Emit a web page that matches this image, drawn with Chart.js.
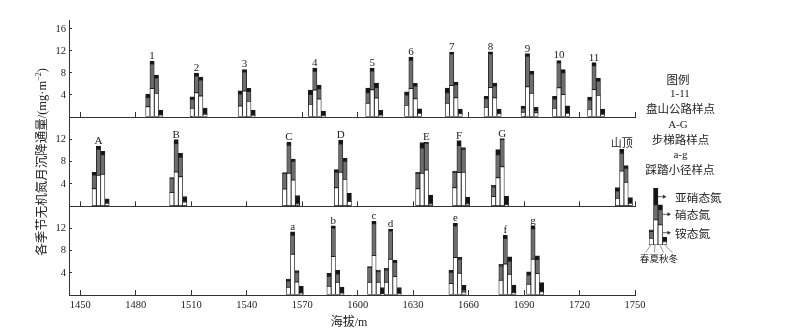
<!DOCTYPE html>
<html><head><meta charset="utf-8">
<script src="https://cdn.jsdelivr.net/npm/chart.js@4.4.1/dist/chart.umd.min.js"></script>
<style>
html,body{margin:0;padding:0;background:#fff;}
#wrap{position:relative;width:808px;height:335px;overflow:hidden;background:#fff;}
#wrap canvas{position:absolute;left:0;top:0;}
.t{position:absolute;transform:translate(-50%,-50%);white-space:nowrap;line-height:1;color:#222;font-family:"Liberation Serif","Noto Sans CJK SC",serif;}
.l{position:absolute;transform:translate(0,-50%);white-space:nowrap;line-height:1;color:#222;font-family:"Liberation Serif","Noto Sans CJK SC",serif;}
.cjk{font-family:"Noto Sans CJK SC",sans-serif;}
</style></head><body>
<div id="wrap">
<canvas id="c1" width="808" height="335"></canvas>
<canvas id="c2" width="808" height="335"></canvas>
<canvas id="c3" width="808" height="335"></canvas>
<canvas id="cl" width="18" height="57" style="left:649px;top:188px;"></canvas>
<svg width="808" height="335" style="position:absolute;left:0;top:0;" xmlns="http://www.w3.org/2000/svg">
  <g stroke="#333" stroke-width="0.8" fill="#333">
    <line x1="658" y1="196.7" x2="663.5" y2="196.7"/>
    <polygon points="663,194.7 666.5,196.7 663,198.7" stroke="none"/>
    <line x1="662.5" y1="214.3" x2="668" y2="214.3"/>
    <polygon points="667.5,212.3 671,214.3 667.5,216.3" stroke="none"/>
    <line x1="662.5" y1="232.7" x2="668" y2="232.7"/>
    <polygon points="667.5,230.7 671,232.7 667.5,234.7" stroke="none"/>
  </g>
  <g stroke="#555" stroke-width="0.6">
    <line x1="651" y1="245" x2="645.5" y2="252.5"/>
    <line x1="655" y1="245" x2="654.5" y2="252.5"/>
    <line x1="660" y1="245" x2="663.5" y2="252.5"/>
    <line x1="664.5" y1="245" x2="672.5" y2="252.5"/>
  </g>
</svg>
<div class="t" style="left:42px;top:162px;font-size:12.5px;transform:translate(-50%,-50%) rotate(-90deg);"><span class="cjk">各季节无机氮月沉降通量</span>/(mg·m<sup style="font-size:8px;vertical-align:5px;line-height:0">−2</sup>)</div>
<div class="t" style="left:349px;top:321px;font-size:12px;"><span class="cjk">海拔</span>/m</div>
<div class="t cjk" style="left:678px;top:80px;font-size:11.5px;">图例</div>
<div class="t" style="left:680px;top:93px;font-size:11px;">1-11</div>
<div class="t cjk" style="left:680.5px;top:108.7px;font-size:11.5px;">盘山公路样点</div>
<div class="t" style="left:678px;top:124px;font-size:11px;">A-G</div>
<div class="t cjk" style="left:680.5px;top:139.5px;font-size:11.5px;">步梯路样点</div>
<div class="t" style="left:680.5px;top:154px;font-size:11px;">a-g</div>
<div class="t cjk" style="left:680px;top:169.5px;font-size:11.5px;">踩踏小径样点</div>
<div class="l cjk" style="left:675px;top:196.7px;font-size:11.7px;">亚硝态氮</div>
<div class="l cjk" style="left:675px;top:214.3px;font-size:11.7px;">硝态氮</div>
<div class="l cjk" style="left:675px;top:232.7px;font-size:11.7px;">铵态氮</div>
<div class="t cjk" style="left:659px;top:258.5px;font-size:9.6px;">春夏秋冬</div>
</div>
<script>
// ---------------- DATA ----------------
const seasons = ['春', '夏', '秋', '冬'];
const xTickValues = [1450, 1480, 1510, 1540, 1570, 1600, 1630, 1660, 1690, 1720, 1750];

// Panel 1: 盘山公路样点 1-11
const roadNames = ['1', '2', '3', '4', '5', '6', '7', '8', '9', '10', '11'];
const roadElev = [1490, 1514, 1540, 1578, 1609, 1630, 1652, 1673, 1693, 1710, 1729];
// rows: spring, summer, autumn, winter
const roadNH4 = [
  [1.87, 1.57, 2.0, 2.29, 2.48, 2.11, 2.48, 1.75, 0.85, 1.57, 1.39],
  [5.19, 4.41, 4.71, 4.89, 4.95, 5.19, 5.74, 5.37, 5.5, 5.31, 5.01],
  [4.29, 3.8, 2.84, 3.26, 3.44, 3.32, 3.5, 3.5, 4.29, 4.1, 3.93],
  [0.3, 0.5, 0.2, 0.2, 0.3, 0.66, 0.6, 0.6, 0.78, 0.66, 0.5]
];
const roadNO3 = [
  [1.69, 1.63, 2.17, 1.81, 1.93, 1.88, 1.93, 1.57, 0.72, 1.69, 1.69],
  [4.35, 3.02, 3.44, 3.44, 3.4, 5.14, 5.61, 5.98, 5.55, 4.41, 4.29],
  [2.71, 2.9, 1.81, 1.87, 1.93, 2.3, 2.36, 2.12, 3.5, 3.93, 2.59],
  [0.1, 0.1, 0.1, 0.05, 0.05, 0.05, 0.05, 0.05, 0.37, 0.05, 0.05]
];
const roadNO2 = [
  [0.6, 0.48, 0.6, 0.79, 0.84, 0.6, 0.84, 0.42, 0.42, 0.48, 0.54],
  [0.6, 0.54, 0.49, 0.55, 0.55, 0.54, 0.43, 0.49, 0.48, 0.55, 0.6],
  [0.6, 0.55, 0.54, 0.67, 0.79, 0.48, 0.48, 0.54, 0.54, 0.61, 0.55],
  [0.87, 1.0, 0.9, 0.84, 0.85, 0.79, 0.79, 0.8, 0.6, 1.33, 0.9]
];

// Panel 2: 步梯路样点 A-G + 山顶
const stairNames = ['A', 'B', 'C', 'D', 'E', 'F', 'G', '山顶'];
const stairElev = [1461, 1503, 1564, 1592, 1636, 1656, 1677, 1744];
const stairNH4 = [
  [3.16, 2.45, 3.1, 3.34, 3.16, 3.34, 1.73, 1.43],
  [5.55, 6.15, 5.91, 6.09, 5.91, 6.03, 5.13, 6.3],
  [5.73, 5.31, 4.72, 4.84, 6.51, 6.09, 7.1, 4.3],
  [0.54, 0.78, 0.42, 0.84, 0.42, 0.42, 0.24, 0.54]
];
const stairNO3 = [
  [2.45, 2.55, 2.75, 2.75, 2.75, 2.75, 1.73, 1.32],
  [4.66, 5.07, 5.02, 5.07, 4.54, 4.84, 4.12, 3.2],
  [3.52, 3.47, 3.34, 3.22, 4.77, 4.12, 4.84, 2.5],
  [0.05, 0.05, 0.05, 0.05, 0.05, 0.05, 0.05, 0.05]
];
const stairNO2 = [
  [0.48, 0.13, 0.18, 0.48, 0.18, 0.24, 0.3, 0.59],
  [0.6, 0.72, 0.59, 0.72, 0.95, 0.89, 0.9, 0.7],
  [0.6, 0.71, 0.42, 0.54, 0.24, 0.3, 0.18, 0.48],
  [0.77, 0.89, 1.43, 1.43, 1.55, 1.19, 1.49, 0.95]
];

// Panel 3: 踩踏小径样点 a-g
const trailNames = ['a', 'b', 'c', 'd', 'e', 'f', 'g'];
const trailElev = [1566, 1588, 1610, 1619, 1654, 1681, 1696];
const trailNH4 = [
  [1.39, 1.57, 2.29, 2.29, 2.05, 2.65, 1.93],
  [7.35, 6.93, 7.1, 6.45, 6.75, 5.6, 6.45],
  [2.35, 2.29, 2.29, 3.31, 3.92, 3.73, 3.86],
  [0.3, 0.3, 0.15, 0.2, 0.54, 0.42, 0.6]
];
const trailNO3 = [
  [1.14, 1.8, 2.65, 2.23, 2.05, 2.59, 1.68],
  [3.43, 5.06, 5.73, 5.0, 5.6, 4.58, 5.48],
  [1.75, 1.51, 1.91, 2.53, 2.53, 2.35, 2.53],
  [0.05, 0.05, 0.05, 0.05, 0.36, 0.05, 0.05]
];
const trailNO2 = [
  [0.36, 0.55, 0.18, 0.3, 0.36, 0.3, 0.55],
  [0.61, 0.48, 0.47, 0.42, 0.6, 0.6, 0.48],
  [0.3, 0.66, 0.3, 0.43, 0.36, 0.79, 0.66],
  [1.2, 1.09, 1.12, 1.07, 0.85, 1.33, 1.57]
];

// Legend sample bars (schematic units)
const legendNH4 = [6.7, 25, 20, 3.3];
const legendNO3 = [6.6, 15, 15, 0.6];
const legendNO2 = [1.7, 16.7, 5, 3.9];

// ---------------- RENDER ----------------
Chart.defaults.font.family = '"Liberation Serif", "Noto Sans CJK SC", serif';
Chart.defaults.color = '#222';
const WHITE = '#ffffff', GRAY = '#6e6e6e', BLACK = '#141414', EDGE = '#1e1e1e', AXIS = '#333';

const siteLabelPlugin = {
  id: 'siteLabels',
  afterDatasetsDraw(chart, args, opts) {
    const names = opts.names;
    if (!names) return;
    const ctx = chart.ctx;
    ctx.save();
    ctx.font = '11px "Liberation Serif", "Noto Sans CJK SC", serif';
    ctx.fillStyle = '#222';
    ctx.textAlign = 'center';
    ctx.textBaseline = 'alphabetic';
    names.forEach((name, i) => {
      let best = null;
      for (let k = 0; k < seasons.length; k++) {
        const el = chart.getDatasetMeta(k * 3 + 2).data[i];
        if (!best || el.y < best.y) best = el;
      }
      ctx.fillText(name, best.x, best.y - 2);
    });
    ctx.restore();
  }
};

function makePanel(id, names, elev, nh4, no3, no2, yMax, top, bottom, showXLabels) {
  const datasets = [];
  seasons.forEach((s, k) => {
    [[nh4, WHITE, '铵态氮'], [no3, GRAY, '硝态氮'], [no2, BLACK, '亚硝态氮']].forEach(([arr, col, nm]) => {
      datasets.push({
        label: s + nm,
        stack: s,
        data: elev.map((x, i) => ({ x: x, y: arr[k][i] })),
        backgroundColor: col,
        borderColor: EDGE,
        borderWidth: 0.8,
        borderSkipped: false,
        barThickness: 4.3
      });
    });
  });
  const xH = 20;
  new Chart(document.getElementById(id), {
    type: 'bar',
    data: { datasets },
    plugins: [siteLabelPlugin],
    options: {
      responsive: false,
      animation: false,
      layout: { padding: { left: 0, top: top, right: 808 - 635, bottom: 335 - bottom - xH } },
      plugins: { legend: { display: false }, tooltip: { enabled: false }, siteLabels: { names } },
      scales: {
        x: {
          type: 'linear', min: 1443.9, max: 1750, stacked: true, offset: false,
          afterBuildTicks: s => { s.ticks = xTickValues.map(v => ({ value: v })); },
          afterFit: s => { s.height = xH; },
          grid: { drawOnChartArea: false, drawTicks: true, tickLength: -5, color: AXIS, lineWidth: 1, offset: false },
          border: { display: true, color: AXIS, width: 1 },
          ticks: { display: showXLabels, padding: 8.5, autoSkip: false, maxRotation: 0, font: { size: 10.5 }, color: '#222', callback: v => String(v) }
        },
        y: {
          type: 'linear', min: 0, max: yMax, stacked: true,
          afterBuildTicks: s => {
            const t = [];
            for (let v = 0; v <= yMax; v += 2) t.push({ value: v });
            if (t[t.length - 1].value < yMax) t.push({ value: yMax });
            s.ticks = t;
          },
          afterFit: s => { s.width = 69; },
          grid: { drawOnChartArea: false, drawTicks: true, tickLength: -3, color: AXIS, lineWidth: 1 },
          border: { display: true, color: AXIS, width: 1 },
          ticks: { padding: 6, font: { size: 10.5 }, color: '#222',
            callback: v => (v > 0 && v % 4 === 0 && v < yMax - 0.5) ? String(v) : '' }
        }
      }
    }
  });
}

makePanel('c1', roadNames, roadElev, roadNH4, roadNO3, roadNO2, 17.5, 20.7, 117, false);
makePanel('c2', stairNames, stairElev, stairNH4, stairNO3, stairNO2, 16, 117, 206.3, false);
makePanel('c3', trailNames, trailElev, trailNH4, trailNO3, trailNO2, 16, 206.3, 295, true);

new Chart(document.getElementById('cl'), {
  type: 'bar',
  data: {
    labels: seasons,
    datasets: [
      { data: legendNH4, backgroundColor: WHITE, stack: 'l' },
      { data: legendNO3, backgroundColor: GRAY, stack: 'l' },
      { data: legendNO2, backgroundColor: BLACK, stack: 'l' }
    ]
  },
  options: {
    responsive: false, animation: false,
    layout: { padding: 0 },
    datasets: { bar: { barPercentage: 1, categoryPercentage: 1, borderColor: EDGE, borderWidth: 0.8, borderSkipped: false } },
    plugins: { legend: { display: false }, tooltip: { enabled: false } },
    scales: {
      x: { display: false, stacked: true },
      y: { display: false, stacked: true, min: 0, max: 56.7 }
    }
  }
});
</script>
</body></html>
